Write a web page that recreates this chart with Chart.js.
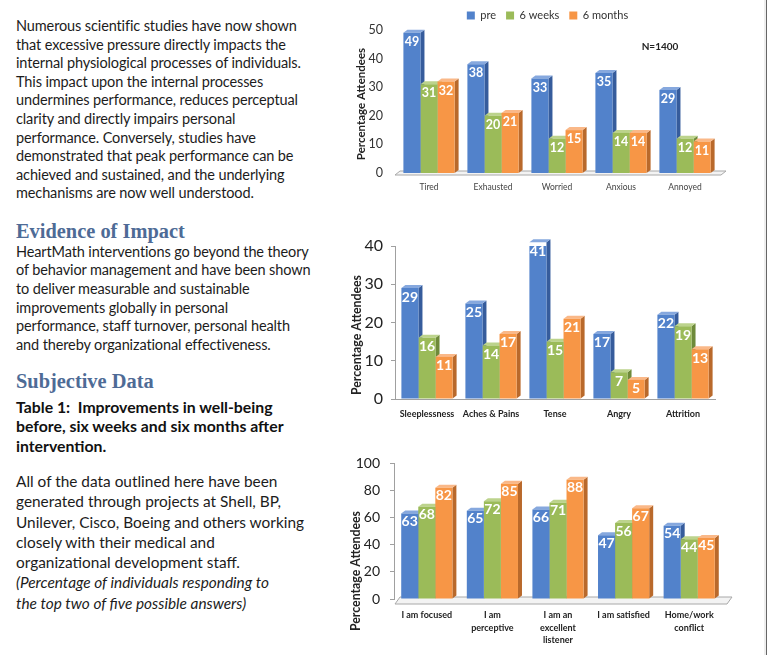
<!DOCTYPE html>
<html><head><meta charset="utf-8">
<script src="https://cdn.jsdelivr.net/npm/chart.js@4.4.1/dist/chart.umd.min.js"></script>
<style>
html,body{margin:0;padding:0;background:#fff;}
body{width:768px;height:655px;position:relative;overflow:hidden;font-family:Lato,"Open Sans",sans-serif;color:#1c1c1c;}
.blk{position:absolute;left:16px;white-space:nowrap;}
.p{font-size:14.5px;line-height:18.6px;letter-spacing:-0.12px;}
.p2{font-size:14.5px;line-height:18.7px;letter-spacing:-0.12px;}
.h{font-family:"Liberation Serif",serif;font-weight:bold;font-size:20.4px;line-height:20px;color:#4e6b96;}
.b{font-size:15.8px;line-height:19.7px;font-weight:bold;color:#111;}
.p4{font-size:15.4px;line-height:20.3px;}
canvas{position:absolute;}
.edge{position:absolute;left:766px;top:0;width:1px;height:655px;background:#666;}
.edge2{position:absolute;left:764px;top:0;width:2px;height:655px;background:#eee;}
</style></head>
<body>
<div class="blk p" style="top:17px">Numerous scientific studies have now shown<br>that excessive pressure directly impacts the<br>internal physiological processes of individuals.<br>This impact upon the internal processes<br>undermines performance, reduces perceptual<br>clarity and directly impairs personal<br>performance. Conversely, studies have<br>demonstrated that peak performance can be<br>achieved and sustained, and the underlying<br>mechanisms are now well understood.</div>
<div class="blk h" style="top:220.5px">Evidence of Impact</div>
<div class="blk p2" style="top:242.5px">HeartMath interventions go beyond the theory<br>of behavior management and have been shown<br>to deliver measurable and sustainable<br>improvements globally in personal<br>performance, staff turnover, personal health<br>and thereby organizational effectiveness.</div>
<div class="blk h" style="top:371px">Subjective Data</div>
<div class="blk b" style="top:396.5px">Table 1:&nbsp; Improvements in well-being<br>before, six weeks and six months after<br>intervention.</div>
<div class="blk p4" style="top:471px">All of the data outlined here have been<br>generated through projects at Shell, BP,<br>Unilever, Cisco, Boeing and others working<br>closely with their medical and<br>organizational development staff.<br><i>(Percentage of individuals responding to<br>the top two of five possible answers)</i></div>
<div class="edge2"></div><div class="edge"></div>
<canvas id="c1" width="415" height="200" style="left:350px;top:0px;width:415px;height:200px"></canvas>
<canvas id="c2" width="415" height="200" style="left:350px;top:225px;width:415px;height:200px"></canvas>
<canvas id="c3" width="415" height="210" style="left:350px;top:445px;width:415px;height:210px"></canvas>
<script>
// ---------- data ----------
const seriesNames = ['pre', '6 weeks', '6 months'];

const cats1 = ['Tired', 'Exhausted', 'Worried', 'Anxious', 'Annoyed'];
const pre1 = [49, 38, 33, 35, 29];
const wk1  = [31, 20, 12, 14, 12];
const mo1  = [32, 21, 15, 14, 11];
const yTicks1 = [0, 10, 20, 30, 40, 50];

const cats2 = ['Sleeplessness', 'Aches & Pains', 'Tense', 'Angry', 'Attrition'];
const pre2 = [29, 25, 41, 17, 22];
const wk2  = [16, 14, 15, 7, 19];
const mo2  = [11, 17, 21, 5, 13];
const yTicks2 = [0, 10, 20, 30, 40];

const cats3 = ['I am focused', ['I am', 'perceptive'], ['I am an', 'excellent', 'listener'], 'I am satisfied', ['Home/work', 'conflict']];
const pre3 = [63, 65, 66, 47, 54];
const wk3  = [68, 72, 71, 56, 44];
const mo3  = [82, 85, 88, 67, 45];
const yTicks3 = [0, 20, 40, 60, 80, 100];

const yAxisTitle = 'Percentage Attendees';
const sampleNote = 'N=1400';

// ---------- styles ----------
const frontCol = ['#5282cb', '#9bbb59', '#f79646'];
const sideCol  = ['#365c9c', '#6e8a3a', '#b9692b'];
const topCol   = ['#86a8de', '#bcd38c', '#fab888'];
const FONT = 'Lato, "Open Sans", sans-serif';

const bar3d = {
  id: 'bar3d',
  beforeDatasetsDraw(chart, args, o) {
    const ctx = chart.ctx, a = chart.chartArea;
    const dx = o.dx, dy = o.dy;
    ctx.save();
    if (o.floor) {
      const f = o.floor;
      const base = chart.scales.y.getPixelForValue(0);
      ctx.beginPath();
      ctx.moveTo(a.left + f.l, base + f.front);
      ctx.lineTo(a.right + f.r, base + f.front);
      ctx.lineTo(a.right + f.r + f.dx, base - f.back);
      ctx.lineTo(a.left + f.l + f.dx, base - f.back);
      ctx.closePath();
      ctx.fillStyle = '#f3f3f3'; ctx.fill();
      ctx.strokeStyle = '#a8a8a8'; ctx.lineWidth = 1; ctx.stroke();
    }
    const all = [];
    chart.data.datasets.forEach((ds, i) => {
      chart.getDatasetMeta(i).data.forEach(el => {
        const p = el.getProps(['x', 'y', 'base', 'width'], true);
        all.push({p, i});
      });
    });
    all.forEach(({p, i}) => {
      const r = p.x + p.width / 2;
      ctx.beginPath();
      ctx.moveTo(r, p.y); ctx.lineTo(r + dx, p.y - dy);
      ctx.lineTo(r + dx, p.base - dy); ctx.lineTo(r, p.base);
      ctx.closePath(); ctx.fillStyle = sideCol[i]; ctx.fill();
    });
    all.forEach(({p, i}) => {
      const l = p.x - p.width / 2, r = p.x + p.width / 2;
      ctx.beginPath();
      ctx.moveTo(l, p.y); ctx.lineTo(l + dx, p.y - dy);
      ctx.lineTo(r + dx, p.y - dy); ctx.lineTo(r, p.y);
      ctx.closePath(); ctx.fillStyle = topCol[i]; ctx.fill();
    });
    ctx.restore();
  },
  afterDatasetsDraw(chart, args, o) {
    const ctx = chart.ctx;
    ctx.save();
    ctx.fillStyle = '#fff';
    ctx.font = 'bold ' + o.labelSize + 'px ' + FONT;
    ctx.textAlign = 'center'; ctx.textBaseline = 'middle';
    chart.data.datasets.forEach((ds, i) => {
      chart.getDatasetMeta(i).data.forEach((el, j) => {
        const p = el.getProps(['x', 'y'], true);
        ctx.fillText(String(ds.data[j]), p.x, p.y + o.labelOff);
      });
    });
    ctx.restore();
  },
  afterDraw(chart, args, o) {
    const ctx = chart.ctx;
    ctx.save();
    ctx.fillStyle = '#222';
    ctx.font = 'bold ' + o.titleSize + 'px ' + FONT;
    ctx.textAlign = 'center'; ctx.textBaseline = 'middle';
    ctx.translate(o.titleX, o.titleY); ctx.rotate(-Math.PI / 2);
    ctx.fillText(yAxisTitle, 0, 0);
    ctx.restore();
    if (o.note) {
      ctx.save();
      ctx.fillStyle = '#222';
      ctx.font = 'bold 10px ' + FONT;
      ctx.textAlign = 'center'; ctx.textBaseline = 'middle';
      ctx.fillText(sampleNote, o.note.x, o.note.y);
      ctx.restore();
    }
  }
};

function build(id, cats, vals, ticks, o) {
  return new Chart(document.getElementById(id), {
    type: 'bar',
    data: {
      labels: cats,
      datasets: vals.map((v, i) => ({
        label: seriesNames[i], data: v, backgroundColor: frontCol[i],
        borderWidth: 0, categoryPercentage: o.cp, barPercentage: 1
      }))
    },
    options: {
      responsive: false, animation: false, devicePixelRatio: 1,
      layout: {padding: {left: 0, right: o.padR, top: o.padT, bottom: 0}},
      plugins: {
        legend: o.legend ? {
          display: true, position: 'top', maxHeight: o.legendH,
          labels: {boxWidth: 8, boxHeight: 8, padding: 10, color: '#333', font: {family: FONT, size: 11}}
        } : {display: false},
        tooltip: {enabled: false},
        bar3d: {dx: o.dx, dy: o.dy, floor: o.floor, labelSize: o.labelSize, labelOff: o.labelOff,
                titleSize: o.titleSize, titleX: o.titleX, titleY: o.titleY, note: o.note}
      },
      scales: {
        x: {
          grid: {display: false, drawTicks: false, tickLength: 0},
          border: {display: o.xBorder, color: '#a0a0a0'},
          ticks: {font: o.xFont, color: o.xColor, padding: o.xPad, maxRotation: 0, autoSkip: false},
          afterFit(s) { s.height = o.xH; }
        },
        y: {
          min: ticks[0], max: ticks[ticks.length - 1],
          ticks: {stepSize: ticks[1] - ticks[0], font: {family: FONT, size: o.ySize}, color: o.yColor, padding: o.yPad},
          grid: {display: o.yMarks, drawOnChartArea: false, drawTicks: o.yMarks, tickLength: o.yMarks ? 4 : 0, color: '#a0a0a0'},
          border: {display: o.yBorder, color: '#a0a0a0'},
          afterFit(s) { s.width = o.yW; }
        },
        yR: {
          position: 'right', display: true,
          ticks: {display: false}, grid: {display: false, drawTicks: false}, border: {display: false},
          afterFit(s) { s.width = o.rW; }
        }
      }
    },
    plugins: [bar3d]
  });
}

build('c1', cats1, [pre1, wk1, mo1], yTicks1, {
  cp: 0.8, yW: 47, rW: 28, padR: 20, padT: 0, legend: true, legendH: 30, xH: 27,
  dx: 4, dy: 3, floor: {l: -2, r: 4, front: 2, back: 2, dx: 5},
  labelSize: 12.5, labelOff: 9, titleSize: 11.5, titleX: 11, titleY: 104,
  note: {x: 310, y: 47},
  xBorder: false, xFont: {family: FONT, size: 8.5}, xColor: '#444', xPad: 9,
  ySize: 12.5, yColor: '#333', yPad: 14, yMarks: false, yBorder: false
});
build('c2', cats2, [pre2, wk2, mo2], yTicks2, {
  cp: 0.8, yW: 45, rW: 30, padR: 20, padT: 21, legend: false, xH: 26,
  dx: 4, dy: 3, floor: null,
  labelSize: 14, labelOff: 9, titleSize: 12.3, titleX: 7, titleY: 110,
  xBorder: true, xFont: {family: FONT, size: 9, weight: 'bold'}, xColor: '#222', xPad: 10,
  ySize: 16, yColor: '#222', yPad: 8, yMarks: true, yBorder: true
});
build('c3', cats3, [pre3, wk3, mo3], yTicks3, {
  cp: 0.78, yW: 44, rW: 23, padR: 20, padT: 18, legend: false, xH: 56,
  dx: 4, dy: 3, floor: {l: 1, r: 5, front: 5, back: 2, dx: 5},
  labelSize: 14, labelOff: 8, titleSize: 12.3, titleX: 6, titleY: 126,
  xBorder: false, xFont: {family: FONT, size: 9, weight: 'bold', lineHeight: 1.39}, xColor: '#222', xPad: 10,
  ySize: 14, yColor: '#222', yPad: 10, yMarks: true, yBorder: true
});
</script>
</body></html>
